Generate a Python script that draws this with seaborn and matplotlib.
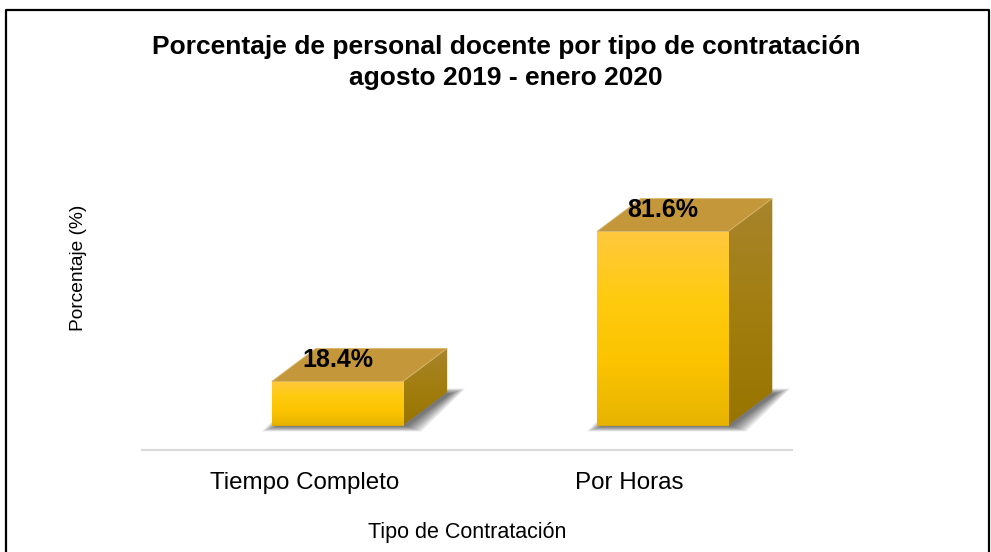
import numpy as np
import pandas as pd
import matplotlib
matplotlib.use("Agg")
import matplotlib.pyplot as plt
import seaborn as sns
from matplotlib.patches import Polygon
from matplotlib.colors import LinearSegmentedColormap

# data
categories = ["Tiempo Completo", "Por Horas"]
percentages = [18.4, 81.6]
value_labels = ["18.4%", "81.6%"]

df = pd.DataFrame({"Tipo": categories, "Porcentaje": percentages})

sns.set_style("white")
plt.rcParams["font.family"] = ["Liberation Sans", "DejaVu Sans"]
plt.rcParams["text.color"] = "black"
plt.rcParams["axes.labelcolor"] = "black"
plt.rcParams["xtick.color"] = "black"

fig = plt.figure(figsize=(9.91, 5.52), dpi=100)
ax = fig.add_axes([142 / 991, (552 - 450) / 552, 650 / 991, 300 / 552])

ax = sns.barplot(data=df, x="Tipo", y="Porcentaje", color="#FFCC00",
                 width=0.404, ax=ax, zorder=3)

ax.set_xlim(-0.5, 1.5)
ax.set_ylim(-10.55, 116)

# pixel -> data conversions
px_x = 2.0 / 650
px_y = (116 + 10.55) / 300
shift = 33 * px_x          # front face sits right of tick
dx, dy = 44 * px_x, 33 * px_y

front_cmap = LinearSegmentedColormap.from_list(
    "front", ["#FFC83E", "#FFCB10", "#FCC400", "#E8B400"])
side_cmap = LinearSegmentedColormap.from_list(
    "side", ["#A8842C", "#A27E10", "#987400"])

grad = np.linspace(0, 1, 100).reshape(-1, 1)

for patch, lab in zip(ax.patches, value_labels):
    patch.set_x(patch.get_x() + shift)
    x0 = patch.get_x()
    w = patch.get_width()
    h = patch.get_height()
    x1 = x0 + w
    patch.set_edgecolor("#D9A800")
    patch.set_linewidth(0.8)

    # blurred drop shadow of the footprint, shifted down-right
    ox, oy = 4 * px_x, -1.5 * px_y
    for r in range(14, -1, -2):
        rx, ry = r * px_x, r * 0.35 * px_y
        sh = Polygon([(x0 + ox - rx, oy - ry), (x1 + ox + rx, oy - ry),
                      (x1 + dx + ox + rx, dy + oy + ry), (x0 + dx + ox - rx, dy + oy + ry)],
                     closed=True, facecolor="black", edgecolor="none",
                     alpha=0.085, zorder=2)
        ax.add_patch(sh)

    # front gradient
    im = ax.imshow(grad, cmap=front_cmap, aspect="auto",
                   extent=(x0, x1, 0, h), origin="upper", zorder=3.5)
    im.set_clip_path(patch)

    # side face
    side = Polygon([(x1, 0), (x1 + dx, dy), (x1 + dx, h + dy), (x1, h)],
                   closed=True, facecolor="#A07C0C", edgecolor="none", zorder=3)
    ax.add_patch(side)
    im2 = ax.imshow(grad, cmap=side_cmap, aspect="auto",
                    extent=(x1, x1 + dx, 0, h + dy), origin="upper", zorder=3.2)
    im2.set_clip_path(side)

    # top face
    top = Polygon([(x0, h), (x1, h), (x1 + dx, h + dy), (x0 + dx, h + dy)],
                  closed=True, facecolor="#C4983A", edgecolor="#D8B870",
                  linewidth=0.6, zorder=4)
    ax.add_patch(top)

    ax.text(x0 + w / 2, h + dy / 2 + 5 * px_y, lab, ha="center", va="center",
            fontsize=18, fontweight="bold", color="black", zorder=6)

ax.set_xlabel("Tipo de Contratación", fontsize=15.5, labelpad=20)
ax.set_ylabel("Porcentaje (%)", fontsize=13.8)
ax.yaxis.set_label_coords(-0.085, 0.607)
ax.set_yticks([])
ax.tick_params(axis="x", length=0, labelsize=17.4, pad=16)

for s in ["top", "right", "left"]:
    ax.spines[s].set_visible(False)
ax.spines["bottom"].set_color("#D9D9D9")
ax.spines["bottom"].set_linewidth(1.5)

fig.text(506 / 991, 1 - 47 / 552, "Porcentaje de personal docente por tipo de contratación",
         ha="center", va="center", fontsize=19, fontweight="bold")
fig.text(506 / 991, 1 - 78 / 552, "agosto 2019 - enero 2020",
         ha="center", va="center", fontsize=19, fontweight="bold")

# outer frame (left, top, right)
frame = plt.Line2D([6 / 991, 6 / 991, 989 / 991, 989 / 991],
                   [0, 1 - 10 / 552, 1 - 10 / 552, 0],
                   transform=fig.transFigure, color="black", linewidth=1.6)
fig.add_artist(frame)

fig.savefig("out.png", dpi=100)
